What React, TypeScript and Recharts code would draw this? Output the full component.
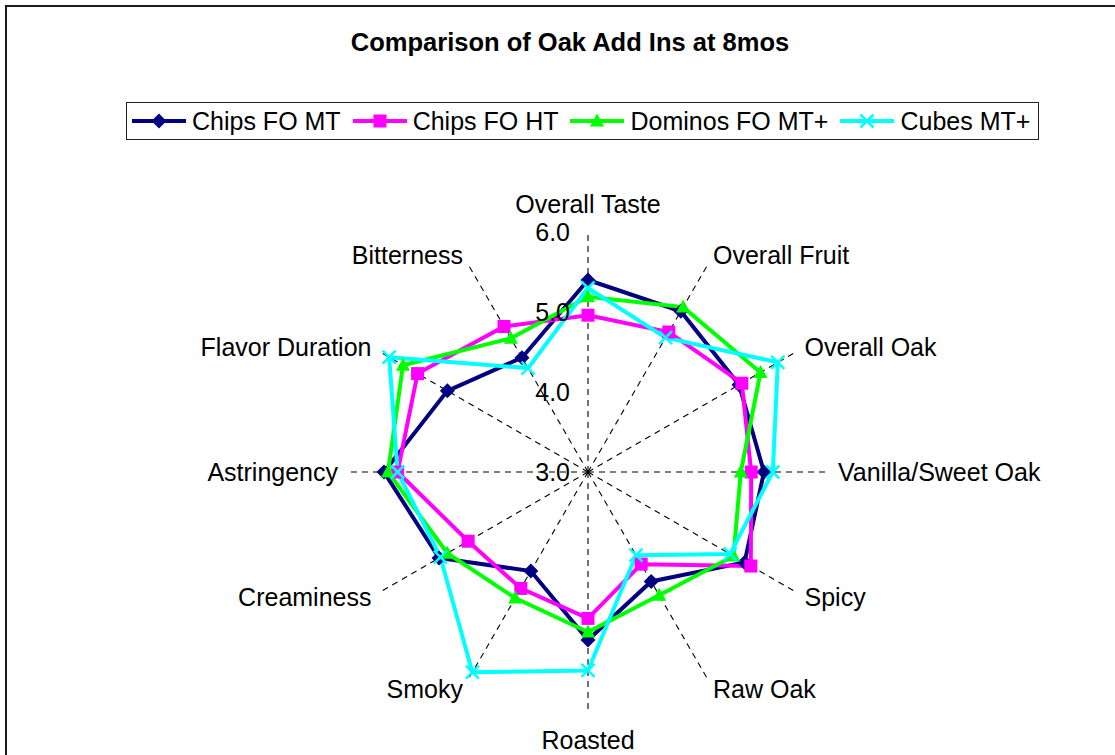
import React from 'react';
import {
  RadarChart,
  Radar,
  PolarGrid,
  PolarAngleAxis,
  PolarRadiusAxis,
  Legend
} from 'recharts';

const attributes = [
  'Overall Taste',
  'Overall Fruit',
  'Overall Oak',
  'Vanilla/Sweet Oak',
  'Spicy',
  'Raw Oak',
  'Roasted',
  'Smoky',
  'Creaminess',
  'Astringency',
  'Flavor Duration',
  'Bitterness'
];

const chipsFoMt = [5.4, 5.32, 5.18, 5.2, 5.26, 4.58, 5.1, 4.43, 5.15, 5.55, 5.03, 4.65];
const chipsFoHt = [4.96, 5.02, 5.22, 5.04, 5.35, 4.33, 4.83, 4.68, 4.73, 5.38, 5.46, 5.1];
const dominosFoMt = [5.19, 5.38, 5.49, 4.91, 5.1, 4.78, 5.0, 4.82, 5.03, 5.5, 5.67, 4.93];
const cubesMt = [5.3, 4.94, 5.74, 5.31, 5.05, 4.2, 5.48, 5.89, 5.13, 5.38, 5.87, 4.5];

const radiusTicks = [3, 4, 5, 6];

const data = attributes.map((attribute, i) => ({
  attribute,
  chipsFoMt: chipsFoMt[i],
  chipsFoHt: chipsFoHt[i],
  dominosFoMt: dominosFoMt[i],
  cubesMt: cubesMt[i]
}));

type MarkerShape = 'diamond' | 'square' | 'triangle' | 'x';

const SERIES: { key: string; name: string; color: string; marker: MarkerShape }[] = [
  { key: 'chipsFoMt', name: 'Chips FO MT', color: '#000080', marker: 'diamond' },
  { key: 'chipsFoHt', name: 'Chips FO HT', color: '#ff00ff', marker: 'square' },
  { key: 'dominosFoMt', name: 'Dominos FO MT+', color: '#00ff00', marker: 'triangle' },
  { key: 'cubesMt', name: 'Cubes MT+', color: '#00ffff', marker: 'x' }
];

const FONT = '"Liberation Sans", Arial, sans-serif';

const Marker = ({ x, y, shape, color }: { x: number; y: number; shape: MarkerShape; color: string }) => {
  switch (shape) {
    case 'diamond':
      return <polygon points={`${x},${y - 7.5} ${x + 7.5},${y} ${x},${y + 7.5} ${x - 7.5},${y}`} fill={color} />;
    case 'square':
      return <rect x={x - 6.5} y={y - 6.5} width={13} height={13} fill={color} />;
    case 'triangle':
      return <polygon points={`${x},${y - 7.5} ${x + 7},${y + 5.5} ${x - 7},${y + 5.5}`} fill={color} />;
    default:
      return (
        <g stroke={color} strokeWidth={2.5}>
          <line x1={x - 6.5} y1={y - 6.5} x2={x + 6.5} y2={y + 6.5} />
          <line x1={x - 6.5} y1={y + 6.5} x2={x + 6.5} y2={y - 6.5} />
        </g>
      );
  }
};

// category labels sit just outside the spokes, anchored by side
const AngleTick = (props: any) => {
  const { x, y, payload } = props;
  const rad = (payload.coordinate * Math.PI) / 180;
  const cos = Math.cos(rad);
  const sin = Math.sin(rad);
  let anchor: 'start' | 'middle' | 'end' = 'middle';
  let dy = 0;
  if (Math.abs(cos) > 0.01) {
    anchor = cos > 0 ? 'start' : 'end';
  } else {
    dy = sin > 0 ? -18 : 18;
  }
  return (
    <text
      x={x}
      y={y + dy}
      textAnchor={anchor}
      dominantBaseline="central"
      fill="#000"
      fontSize={25}
      fontFamily={FONT}
    >
      {payload.value}
    </text>
  );
};

const RadiusTick = (props: any) => {
  const { x, y, payload } = props;
  return (
    <text
      x={x - 18}
      y={y}
      textAnchor="end"
      dominantBaseline="central"
      fill="#000"
      fontSize={25}
      fontFamily={FONT}
    >
      {Number(payload.value).toFixed(1)}
    </text>
  );
};

const renderLegend = () => (
  <div
    style={{
      display: 'flex',
      alignItems: 'center',
      height: '100%',
      boxSizing: 'border-box',
      border: '1.5px solid #222',
      paddingLeft: 5,
      fontFamily: FONT,
      fontSize: 25,
      color: '#000',
      whiteSpace: 'nowrap'
    }}
  >
    {SERIES.map((s) => (
      <div key={s.key} style={{ display: 'flex', alignItems: 'center', marginRight: 12 }}>
        <svg width={54} height={20} style={{ display: 'block' }}>
          <line x1={0} y1={10} x2={54} y2={10} stroke={s.color} strokeWidth={4} />
          <Marker x={27} y={10} shape={s.marker} color={s.color} />
        </svg>
        <span style={{ marginLeft: 6 }}>{s.name}</span>
      </div>
    ))}
  </div>
);

export default function App() {
  return (
    <div
      style={{
        position: 'absolute',
        left: 0,
        top: 0,
        width: 1115,
        height: 755,
        overflow: 'hidden',
        background: '#fff'
      }}
    >
      <div
        style={{
          position: 'absolute',
          left: 5,
          top: 5,
          width: 1300,
          height: 1000,
          border: '2px solid #1a1a1a'
        }}
      />
      <div
        style={{
          position: 'absolute',
          left: 0,
          width: 1140,
          top: 27,
          lineHeight: '30px',
          textAlign: 'center',
          fontFamily: FONT,
          fontWeight: 'bold',
          fontSize: 25.5,
          color: '#000'
        }}
      >
        Comparison of Oak Add Ins at 8mos
      </div>
      <div style={{ position: 'absolute', left: 0, top: 0 }}>
        <RadarChart
          width={1115}
          height={755}
          data={data}
          cx={588}
          cy={472}
          outerRadius={240}
          margin={{ top: 0, right: 0, bottom: 0, left: 0 }}
        >
          <PolarGrid
            gridType="polygon"
            polarRadius={[]}
            stroke="#000"
            strokeWidth={1.1}
            strokeDasharray="6 5"
            radialLines
          />
          <PolarAngleAxis
            dataKey="attribute"
            axisLine={false}
            tickLine={false}
            tickSize={10}
            tick={<AngleTick />}
          />
          <PolarRadiusAxis
            angle={90}
            domain={[3, 6]}
            ticks={radiusTicks as any}
            tickCount={4}
            axisLine={false}
            tick={<RadiusTick />}
          />
          {SERIES.map((s) => (
            <Radar
              key={s.key}
              name={s.name}
              dataKey={s.key}
              stroke={s.color}
              strokeWidth={4}
              fill="none"
              fillOpacity={0}
              isAnimationActive={false}
              dot={(p: any) => (
                <Marker key={`${s.key}-${p.index}`} x={p.cx} y={p.cy} shape={s.marker} color={s.color} />
              )}
            />
          ))}
          <Legend
            content={renderLegend}
            wrapperStyle={{ position: 'absolute', left: 126, top: 102, width: 913, height: 38 }}
          />
        </RadarChart>
      </div>
    </div>
  );
}
